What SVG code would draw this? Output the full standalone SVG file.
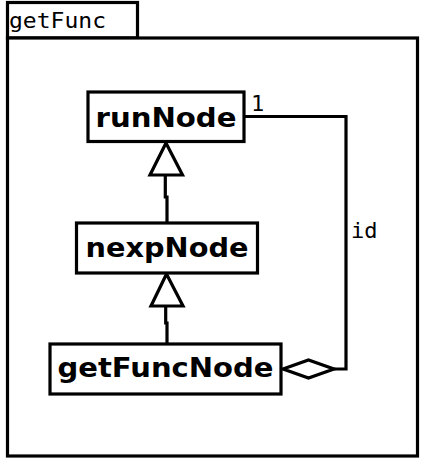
<svg xmlns="http://www.w3.org/2000/svg" width="425" height="461" viewBox="0 0 425 461">
<style>
.ln{fill:none;stroke:#000;stroke-width:3.2}
.box{fill:#fff;stroke:#000;stroke-width:3.2}
.nt{font-family:"DejaVu Sans",sans-serif;font-weight:bold;font-size:27px;fill:#000}
.mt{font-family:"DejaVu Sans Mono",monospace;font-size:22px;fill:#000}
</style>
<rect width="425" height="461" fill="#fff"/>
<g id="frame">
<rect class="box" x="7.5" y="2.5" width="130" height="35.5"/>
<rect class="box" x="7.5" y="38" width="410" height="418"/>
<text class="mt" x="9" y="28" textLength="97" lengthAdjust="spacingAndGlyphs">getFunc</text>
</g>
<g id="connectors">
<path class="ln" d="M165.3 175 V197 H167 V223"/>
<polygon class="box" points="166,143 150,175 182.5,175"/>
<path class="ln" d="M165.7 306 V323 H167 V344"/>
<polygon class="box" points="166.5,274 151,306 183,306"/>
<path class="ln" d="M244 116.5 H346 V369 H334"/>
<polygon class="box" points="283,369 308.5,360 334,369 308.5,378"/>
<text class="mt" x="251" y="111">1</text>
<text class="mt" x="351" y="238">id</text>
</g>
<g id="runNode">
<rect class="box" x="88" y="92" width="156" height="49.5"/>
<text class="nt" x="95.5" y="127" textLength="141" lengthAdjust="spacingAndGlyphs">runNode</text>
</g>
<g id="nexpNode">
<rect class="box" x="76.5" y="223" width="181" height="50"/>
<text class="nt" x="85.5" y="257" textLength="163" lengthAdjust="spacingAndGlyphs">nexpNode</text>
</g>
<g id="getFuncNode">
<rect class="box" x="50" y="344" width="231" height="50"/>
<text class="nt" x="57.5" y="377" textLength="216" lengthAdjust="spacingAndGlyphs">getFuncNode</text>
</g>
</svg>
